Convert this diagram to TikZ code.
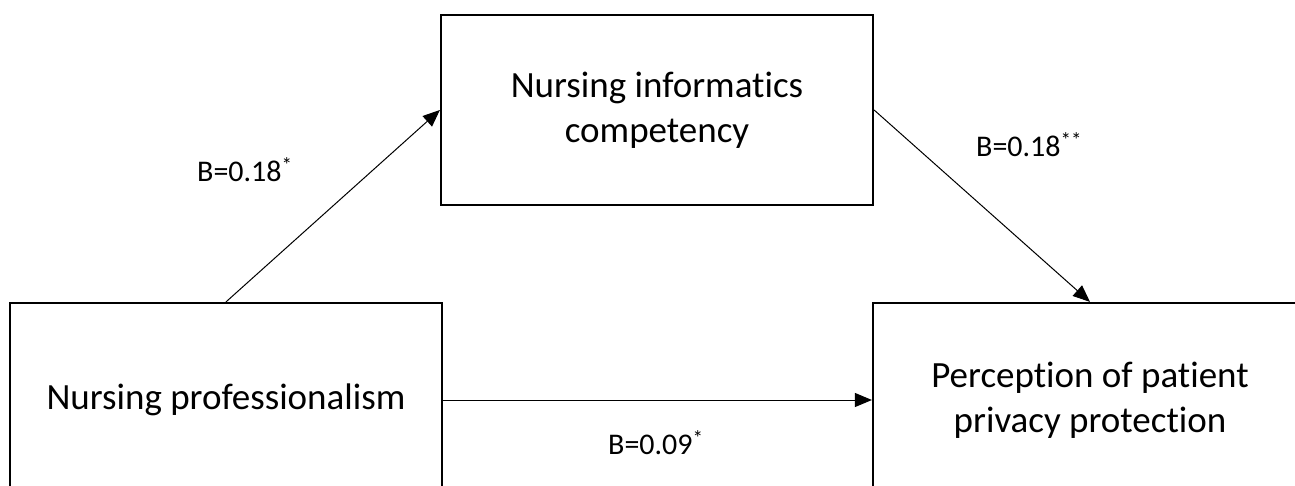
\documentclass[tikz,border=0pt]{standalone}
\usepackage{fontspec}
\setmainfont[Ligatures=NoCommon]{Carlito}
\usetikzlibrary{arrows.meta}
\begin{document}
\begin{tikzpicture}[x=1pt,y=-1pt,
  boxnode/.style={draw=black,line width=2.2pt,minimum width=432pt,minimum height=190pt,inner sep=0pt,align=center,font=\fontsize{37}{45}\selectfont},
  conn/.style={line width=1pt,-{Triangle[length=17pt,width=14pt]}},
  lbl/.style={inner sep=0pt,anchor=base west,font=\fontsize{30}{36}\selectfont}]
\useasboundingbox[fill=white] (0,0) rectangle (1295,486);
\node[boxnode] (mid) at (657,110) {Nursing informatics\\competency};
\node[boxnode,minimum width=432pt,minimum height=194pt] (lbox) at (226,400) {Nursing professionalism};
\node[boxnode,minimum width=434pt,minimum height=194pt] (rbox) at (1090,400) {Perception of patient\\privacy protection};
\draw[conn] (lbox.north) -- (mid.west);
\draw[conn] (mid.east) -- (rbox.north);
\draw[conn] (lbox.east) -- (rbox.west);
\node[lbl] (l1) at (197,181.5) {B=0.18\textsuperscript{*}};
\node[lbl] (l2) at (976,156.5) {B=0.18\textsuperscript{**}};
\node[lbl] (l3) at (608,454.5) {B=0.09\textsuperscript{*}};
\end{tikzpicture}
\end{document}
